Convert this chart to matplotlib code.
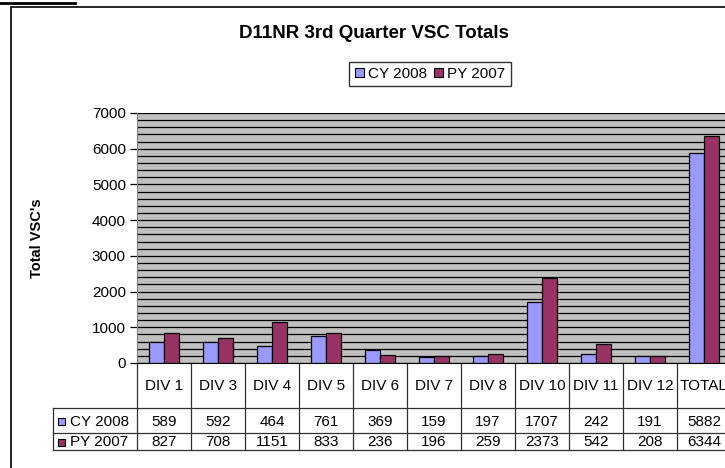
import matplotlib
matplotlib.use("Agg")
import matplotlib.pyplot as plt
import numpy as np
from matplotlib.patches import Rectangle
from matplotlib.lines import Line2D
from matplotlib.transforms import blended_transform_factory

categories = ["DIV 1", "DIV 3", "DIV 4", "DIV 5", "DIV 6", "DIV 7", "DIV 8",
              "DIV 10", "DIV 11", "DIV 12", "TOTAL"]
cy_2008 = [589, 592, 464, 761, 369, 159, 197, 1707, 242, 191, 5882]
py_2007 = [827, 708, 1151, 833, 236, 196, 259, 2373, 542, 208, 6344]
series_names = ["CY 2008", "PY 2007"]
y_ticks = [0, 1000, 2000, 3000, 4000, 5000, 6000, 7000]

W, H = 725, 468
CY_COLOR = "#9999FF"
PY_COLOR = "#993366"
FONT = "Liberation Sans"
plt.rcParams["font.family"] = [FONT, "DejaVu Sans"]
FS = 11


def fx(x):
    return x / W


def fy(y):
    return 1 - y / H


fig = plt.figure(figsize=(W / 100, H / 100), dpi=100)
fig.patch.set_facecolor("white")

# plot area in pixels: left 137, top 113, bottom 363, column width 54
n = len(categories)
left, top, bottom = 137, 113, 363
col_w = 54
ax = fig.add_axes([fx(left), fy(bottom), fx(col_w * n), (bottom - top) / H])
ax.set_facecolor("#C0C0C0")

x = np.arange(n)
bw = 0.28
ax.bar(x - bw / 2, cy_2008, bw, color=CY_COLOR, edgecolor="black", linewidth=0.9, zorder=3)
ax.bar(x + bw / 2, py_2007, bw, color=PY_COLOR, edgecolor="black", linewidth=0.9, zorder=3)

ax.set_xlim(-0.5, n - 0.5)
ax.set_ylim(0, 7000)
ax.set_yticks(y_ticks)
ax.set_yticklabels([str(t) for t in y_ticks], fontsize=FS)
ax.set_yticks(np.arange(0, 7001, 200), minor=True)
ax.tick_params(axis="y", which="major", length=5, width=0.9, pad=3)
ax.tick_params(axis="y", which="minor", length=0)
ax.set_xticks([])
ax.grid(axis="y", which="both", color="black", linewidth=0.9, zorder=1)
for side in ["top", "right"]:
    ax.spines[side].set_visible(False)
ax.spines["left"].set_color("#808080")
ax.spines["bottom"].set_color("black")

fig.text(fx(37), fy(238), "Total VSC's", rotation=90, ha="center", va="center",
         fontsize=10.5, fontweight="bold")

# data table beneath the chart
tr = blended_transform_factory(ax.transData, fig.transFigure)
row_cat, row_cy, row_py, row_end = 363, 408, 433, 450
line_kw = dict(color="#303030", linewidth=0.9, transform=tr, clip_on=False)
for i in range(n + 1):
    ax.add_line(Line2D([i - 0.5, i - 0.5], [fy(row_cat), fy(row_end)], **line_kw))
for yy in (row_cy, row_py, row_end):
    fig.add_artist(Line2D([fx(53), 1.0], [fy(yy), fy(yy)], color="#303030", linewidth=0.9))
fig.add_artist(Line2D([fx(53), fx(53)], [fy(row_cy), fy(row_end)], color="#303030", linewidth=0.9))

for i, cat in enumerate(categories):
    ax.text(i, fy((row_cat + row_cy) / 2), cat, transform=tr, ha="center", va="center",
            fontsize=FS)
    ax.text(i, fy((row_cy + row_py) / 2 + 1), str(cy_2008[i]), transform=tr, ha="center",
            va="center", fontsize=FS)
    ax.text(i, fy((row_py + row_end) / 2 + 1), str(py_2007[i]), transform=tr, ha="center",
            va="center", fontsize=FS)

for (yy0, yy1), name, col in zip([(row_cy, row_py), (row_py, row_end)], series_names,
                                 [CY_COLOR, PY_COLOR]):
    yc = (yy0 + yy1) / 2 + 1
    fig.add_artist(Rectangle((fx(58), fy(yc + 3.5)), fx(7), 7 / H, facecolor=col,
                             edgecolor="black", linewidth=0.8))
    fig.text(fx(70), fy(yc), name, ha="left", va="center", fontsize=FS)

# title and legend
fig.text(fx(374), fy(33), "D11NR 3rd Quarter VSC Totals", ha="center", va="center",
         fontsize=13.5, fontweight="bold")
handles = [Rectangle((0, 0), 1, 1, facecolor=c, edgecolor="black", linewidth=0.8)
           for c in (CY_COLOR, PY_COLOR)]
fig.legend(handles, series_names, loc="center", bbox_to_anchor=(fx(430), fy(74)), ncol=2,
           frameon=True, fancybox=False, edgecolor="black", fontsize=FS,
           handlelength=0.6, handleheight=0.6, handletextpad=0.3, columnspacing=0.4,
           borderpad=0.35, borderaxespad=0)

# outer chart frame and the short rule at the top left
fig.add_artist(Rectangle((fx(11), fy(480)), fx(730), (480 - 7) / H, facecolor="none",
                         edgecolor="black", linewidth=1.2))
fig.add_artist(Line2D([0, fx(75)], [fy(2.5), fy(2.5)], color="black", linewidth=2))

fig.savefig("out.png", dpi=100)
